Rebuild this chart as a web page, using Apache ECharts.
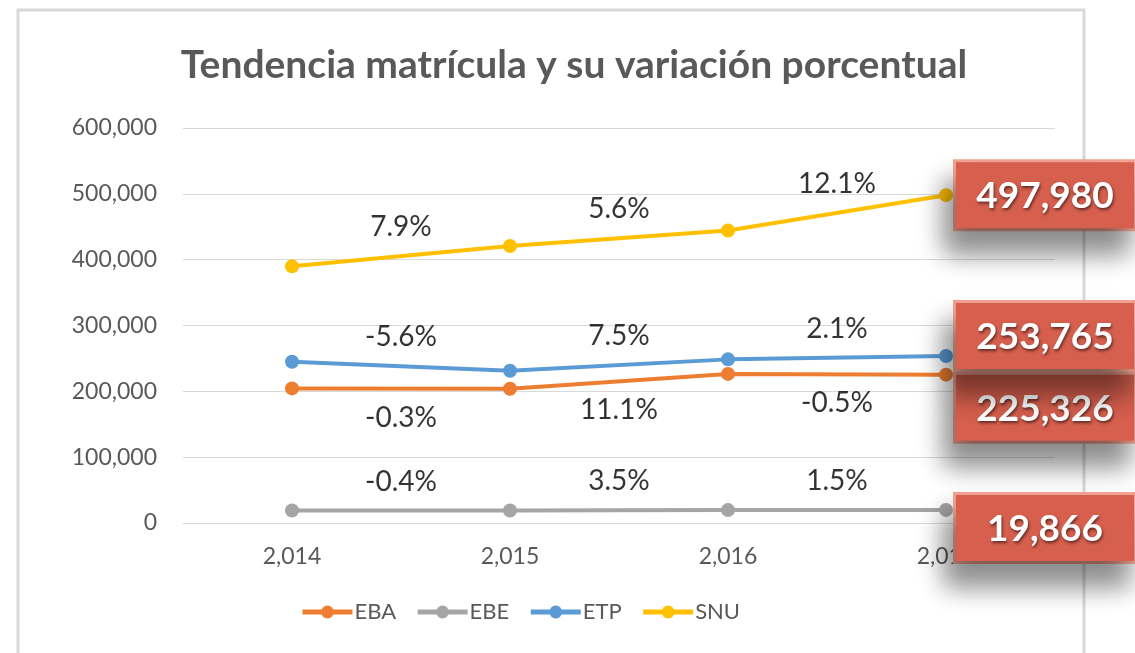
<!DOCTYPE html>
<html>
<head>
<meta charset="utf-8">
<script src="https://cdn.jsdelivr.net/npm/echarts@6/dist/echarts.min.js"></script>
<style>
  html, body { margin: 0; padding: 0; background: #fff; }
  #chart { width: 1135px; height: 653px; }
</style>
</head>
<body>
<div id="chart"></div>
<script>
// Datos
const years = ['2,014', '2,015', '2,016', '2,017'];
const seriesNames = ['EBA', 'EBE', 'ETP', 'SNU'];
const eba = [204446, 203833, 226458, 225326];
const ebe = [18986, 18910, 19572, 19866];
const etp = [244921, 231205, 248546, 253765];
const snu = [389870, 420670, 444228, 497980];
// variación porcentual entre años consecutivos
const ebaPct = ['-0.3%', '11.1%', '-0.5%'];
const ebePct = ['-0.4%', '3.5%', '1.5%'];
const etpPct = ['-5.6%', '7.5%', '2.1%'];
const snuPct = ['7.9%', '5.6%', '12.1%'];

const colors = ['#ED7D31', '#A5A5A5', '#5B9BD5', '#FFC000'];
const font = 'Lato, "Open Sans", sans-serif';

const chart = echarts.init(document.getElementById('chart'));

// caja roja del último valor
function endLabel(offsetY) {
  return {
    show: true,
    position: 'right',
    distance: 3,
    offset: [0, offsetY],
    formatter: p => '{v|' + p.value.toLocaleString('en-US') + '}',
    backgroundColor: '#D65F4E',
    borderColor: '#F2A393',
    borderWidth: 3,
    padding: [10, 8, 8, 8],
    shadowColor: 'rgba(0,0,0,0.45)',
    shadowBlur: 26,
    shadowOffsetX: -8,
    shadowOffsetY: 22,
    rich: {
      v: {
        width: 162,
        height: 48,
        align: 'center',
        fontSize: 37,
        fontWeight: 'bold',
        fontFamily: font,
        color: '#fff',
        textShadowColor: 'rgba(0,0,0,0.55)',
        textShadowBlur: 3,
        textShadowOffsetX: 1,
        textShadowOffsetY: 2
      }
    }
  };
}

function lineSeries(name, values, color, offsetY) {
  const data = values.map((v, i) => i === values.length - 1 ? { value: v, label: endLabel(offsetY) } : v);
  return {
    name: name,
    type: 'line',
    data: data,
    symbol: 'circle',
    symbolSize: 14,
    color: color,
    lineStyle: { width: 4, color: color },
    itemStyle: { color: color },
    label: { show: false },
    z: 3
  };
}

// etiquetas de variación, centradas entre dos años
function pctSeries(values, pct, pos) {
  return {
    type: 'scatter',
    xAxisIndex: 1,
    data: pct.map((t, i) => ({ value: [i + 0.5, (values[i] + values[i + 1]) / 2], name: t })),
    symbolSize: 0,
    silent: true,
    label: {
      show: true,
      position: pos,
      distance: 15,
      formatter: p => p.name,
      fontSize: 28,
      fontFamily: font,
      color: '#000'
    },
    z: 2
  };
}

const option = {
  animation: false,
  backgroundColor: '#fff',
  graphic: [{
    type: 'rect',
    shape: { x: 18, y: 10, width: 1066, height: 660 },
    style: { fill: 'none', stroke: '#D9D9D9', lineWidth: 3 },
    silent: true
  }],
  title: {
    text: 'Tendencia matrícula y su variación porcentual',
    left: 569,
    textAlign: 'center',
    top: 41,
    textStyle: { fontSize: 39, fontWeight: 'bold', color: '#595959', fontFamily: font }
  },
  legend: {
    data: seriesNames,
    left: 295,
    top: 596,
    itemWidth: 50,
    itemHeight: 16,
    itemGap: 19,
    lineStyle: { width: 5 },
    textStyle: { fontSize: 22, color: '#595959', fontFamily: font, padding: [0, 0, 0, -3] }
  },
  grid: { left: 183, right: 80, top: 128, bottom: 130, containLabel: false },
  xAxis: [{
    type: 'category',
    data: years,
    boundaryGap: true,
    axisLine: { show: true, lineStyle: { color: '#D9D9D9', width: 1 } },
    axisTick: { show: false },
    axisLabel: { fontSize: 23, color: '#595959', fontFamily: font, margin: 22 }
  }, {
    type: 'value',
    min: -0.5,
    max: 3.5,
    show: false
  }],
  yAxis: {
    type: 'value',
    min: 0,
    max: 600000,
    interval: 100000,
    axisLine: { show: false },
    axisTick: { show: false },
    splitLine: { lineStyle: { color: '#D9D9D9', width: 1 } },
    axisLabel: {
      fontSize: 23,
      color: '#595959',
      fontFamily: font,
      margin: 26,
      formatter: v => v.toLocaleString('en-US')
    }
  },
  series: [
    lineSeries('EBA', eba, colors[0], 33),
    lineSeries('EBE', ebe, colors[1], 18),
    lineSeries('ETP', etp, colors[2], -20),
    lineSeries('SNU', snu, colors[3], 0),
    pctSeries(snu, snuPct, 'top'),
    pctSeries(etp, etpPct, 'top'),
    pctSeries(eba, ebaPct, 'bottom'),
    pctSeries(ebe, ebePct, 'top')
  ]
};

chart.setOption(option);
</script>
</body>
</html>
